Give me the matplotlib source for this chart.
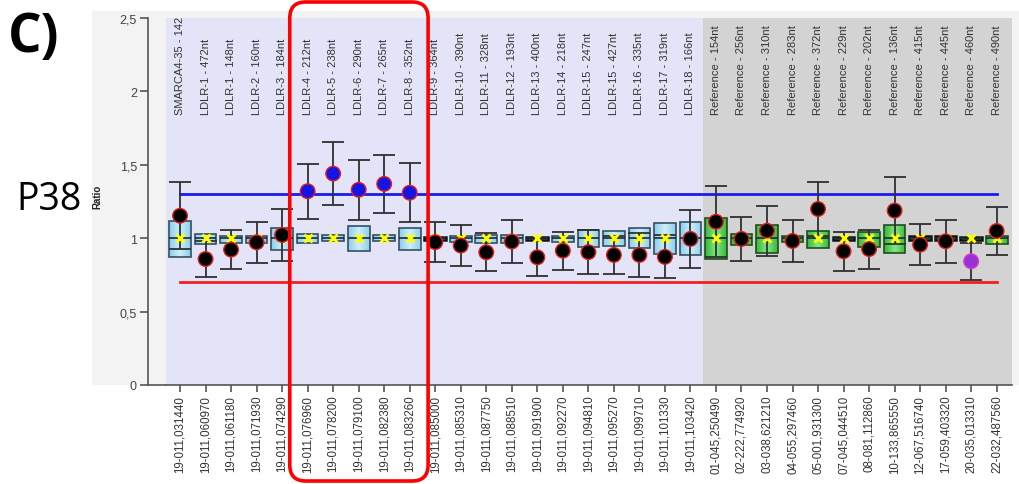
import numpy as np
import matplotlib
matplotlib.use("Agg")
import matplotlib.pyplot as plt
from matplotlib.patches import Rectangle, FancyBboxPatch
from matplotlib.colors import LinearSegmentedColormap

# ---- data -------------------------------------------------------------
probe_names = [
    "SMARCA4-35 - 142", "LDLR-1 - 472nt", "LDLR-1 - 148nt", "LDLR-2 - 160nt",
    "LDLR-3 - 184nt", "LDLR-4 - 212nt", "LDLR-5 - 238nt", "LDLR-6 - 290nt",
    "LDLR-7 - 265nt", "LDLR-8 - 352nt", "LDLR-9 - 364nt", "LDLR-10 - 390nt",
    "LDLR-11 - 328nt", "LDLR-12 - 193nt", "LDLR-13 - 400nt", "LDLR-14 - 218nt",
    "LDLR-15 - 247nt", "LDLR-15 - 427nt", "LDLR-16 - 335nt", "LDLR-17 - 319nt",
    "LDLR-18 - 166nt",
    "Reference - 154nt", "Reference - 256nt", "Reference - 310nt",
    "Reference - 283nt", "Reference - 372nt", "Reference - 229nt",
    "Reference - 202nt", "Reference - 136nt", "Reference - 415nt",
    "Reference - 445nt", "Reference - 460nt", "Reference - 490nt",
]
probe_locations = [
    "19-011,031440", "19-011,060970", "19-011,061180", "19-011,071930",
    "19-011,074290", "19-011,076960", "19-011,078200", "19-011,079100",
    "19-011,082380", "19-011,083260", "19-011,085000", "19-011,085310",
    "19-011,087750", "19-011,088510", "19-011,091900", "19-011,092270",
    "19-011,094810", "19-011,095270", "19-011,099710", "19-011,101330",
    "19-011,103420",
    "01-045,250490", "02-222,774920", "03-038,621210", "04-055,297460",
    "05-001,931300", "07-045,044510", "08-081,112860", "10-133,865550",
    "12-067,516740", "17-059,403320", "20-035,013310", "22-032,487560",
]
n_target_probes = 21  # the rest are reference probes

# reference-sample distribution per probe
ref_q1 = [0.875, 0.958, 0.967, 0.970, 0.922, 0.970, 0.980, 0.915, 0.980, 0.920,
          0.990, 0.975, 0.967, 0.970, 0.988, 0.975, 0.941, 0.948, 0.932, 0.895,
          0.886,
          0.858, 0.954, 0.897, 0.975, 0.933, 0.990, 0.942, 0.897, 0.987, 0.985,
          0.990, 0.963]
ref_q3 = [1.115, 1.026, 1.015, 1.015, 1.067, 1.030, 1.020, 1.080, 1.020, 1.070,
          1.010, 1.015, 1.024, 1.020, 1.008, 1.018, 1.057, 1.050, 1.068, 1.102,
          1.109,
          1.138, 1.027, 1.092, 1.016, 1.047, 1.006, 1.040, 1.092, 1.012, 1.012,
          1.005, 1.017]
ref_median = [1.0] * 33
ref_mean = [1.0] * 33

# test sample ratio and its 95% confidence half-width
sample_ratio = [1.153, 0.858, 0.922, 0.972, 1.022, 1.320, 1.440, 1.330, 1.370,
                1.310, 0.973, 0.950, 0.904, 0.977, 0.870, 0.915, 0.905, 0.886,
                0.886, 0.873, 0.995,
                1.112, 0.995, 1.051, 0.981, 1.199, 0.911, 0.926, 1.188, 0.956,
                0.979, 0.843, 1.049]
sample_ci = [0.227, 0.120, 0.134, 0.141, 0.176, 0.187, 0.217, 0.205, 0.200,
             0.200, 0.137, 0.137, 0.130, 0.145, 0.125, 0.130, 0.150, 0.131,
             0.149, 0.146, 0.197,
             0.241, 0.147, 0.171, 0.144, 0.182, 0.134, 0.133, 0.227, 0.141,
             0.148, 0.126, 0.163]
sample_call = ["normal"] * 5 + ["gain"] * 5 + ["normal"] * 21 + ["unreliable"] + ["normal"]

gain_threshold = 1.30
loss_threshold = 0.70
highlighted = (5, 9)  # LDLR-4 .. LDLR-8

# ---- figure -------------------------------------------------------------
W, H = 1020, 485
fig = plt.figure(figsize=(W / 100, H / 100), dpi=100)
fig.patch.set_facecolor("white")

FONT = "Liberation Sans"
plt.rcParams["font.family"] = [FONT, "DejaVu Sans"]

ax_left, ax_right, ax_top, ax_bottom = 166, 1012, 19, 386
ax = fig.add_axes([ax_left / W, (H - ax_bottom) / H,
                   (ax_right - ax_left) / W, (ax_bottom - ax_top) / H])
ax.set_facecolor("none")

# light panel behind the chart
fig.patches.append(Rectangle((92 / W, (H - ax_bottom) / H), (W - 92) / W,
                             (ax_bottom - 12) / H, transform=fig.transFigure,
                             facecolor="#f3f3f3", edgecolor="none", zorder=-5))

x = np.arange(len(probe_names))
xmin, xmax = -0.55, len(x) - 1 + 0.6

# zone shading: target probes vs reference probes
ax.axvspan(xmin, n_target_probes - 0.5, color="#e4e4f8", zorder=0, lw=0)
ax.axvspan(n_target_probes - 0.5, xmax, color="#d3d3d3", zorder=0, lw=0)

# threshold lines
ax.plot([x[0], x[-1]], [gain_threshold] * 2, color="#1a1aee", lw=2.0, zorder=1.5)
ax.plot([x[0], x[-1]], [loss_threshold] * 2, color="#f02020", lw=2.0, zorder=1.5)

# boxes of the reference distribution
stats = [dict(med=m, q1=a, q3=b, whislo=a, whishi=b, mean=mu, fliers=[])
         for m, a, b, mu in zip(ref_median, ref_q1, ref_q3, ref_mean)]
bp = ax.bxp(stats, positions=x, widths=0.85, patch_artist=True,
            showmeans=True, showcaps=False, shownotches=False,
            boxprops=dict(linewidth=1.2),
            medianprops=dict(color="#1b2a33", linewidth=1.2),
            whiskerprops=dict(linewidth=0),
            meanprops=dict(marker="x", markeredgecolor="#ffff00",
                           markersize=6, markeredgewidth=2.0),
            zorder=2)

blue_grad = LinearSegmentedColormap.from_list(
    "bluebox", ["#8ccdee", "#cdeefb", "#8ccdee"])
green_grad = LinearSegmentedColormap.from_list(
    "greenbox", ["#36b836", "#86e686", "#36b836"])
grad = np.linspace(0, 1, 64)[None, :]

for i, box in enumerate(bp["boxes"]):
    thin = (ref_q3[i] - ref_q1[i]) < 0.03
    is_target = i < n_target_probes
    box.set_facecolor("#a9dcf4" if is_target else "#52cf52")
    if thin:
        box.set_edgecolor("#111111")
        box.set_linewidth(1.8)
    else:
        box.set_edgecolor("#34505e" if is_target else "#1e4f1e")
    # shaded fill clipped to the box outline
    img = ax.imshow(grad, cmap=blue_grad if is_target else green_grad,
                    extent=(x[i] - 0.425, x[i] + 0.425, ref_q1[i], ref_q3[i]),
                    aspect="auto", interpolation="bilinear", zorder=2.1)
    img.set_clip_path(box)
    box.set_facecolor("none")
    box.set_zorder(2.2)
for m in bp["means"]:
    m.set_zorder(5)
for m in bp["medians"]:
    m.set_zorder(3.5)

# sample confidence intervals
ax.errorbar(x, sample_ratio, yerr=sample_ci, fmt="none", ecolor="#303030",
            elinewidth=1.3, capsize=7.8, capthick=1.3, zorder=3)

# sample ratio dots
dot_face = {"normal": "#000000", "gain": "#1414e6", "unreliable": "#9b30d8"}
dot_edge = {"normal": "#e02020", "gain": "#e02020", "unreliable": "#d040d0"}
ax.scatter(x, sample_ratio, s=110,
           c=[dot_face[c] for c in sample_call],
           edgecolors=[dot_edge[c] for c in sample_call],
           linewidths=1.0, zorder=6)

ax.set_xlim(xmin, xmax)
ax.set_ylim(0, 2.5)

# probe names inside the plot
for xi, name in zip(x, probe_names):
    ax.text(xi, 1.846, name, rotation=90, ha="center", va="bottom",
            fontsize=8, color="#333333", family=FONT, zorder=4)

# axes styling
for s in ("top", "right"):
    ax.spines[s].set_visible(False)
ax.spines["left"].set_position(("outward", 13))
ax.spines["left"].set_color("#555555")
ax.spines["left"].set_linewidth(1.2)
ax.spines["bottom"].set_color("#555555")
ax.spines["bottom"].set_linewidth(1.2)

yt = [0, 0.5, 1, 1.5, 2, 2.5]
ax.set_yticks(yt)
ax.set_yticklabels([f"{v:g}".replace(".", ",") for v in yt],
                   fontsize=9, color="#444444", family=FONT)
ax.tick_params(axis="y", length=6, width=1.2, color="#555555", pad=2)

ax.set_xticks(x)
ax.set_xticklabels(probe_locations, rotation=90, fontsize=8.3,
                   color="#333333", family=FONT)
ax.tick_params(axis="x", length=5, width=1.2, color="#555555", pad=2)

# ---- overlay in pixel units --------------------------------------------
ov = fig.add_axes([0, 0, 1, 1], zorder=10)
ov.set_xlim(0, W)
ov.set_ylim(0, H)
ov.axis("off")
ov.patch.set_alpha(0)

# bottom axis line reaching the y spine
ov.plot([147, ax_left], [H - ax_bottom] * 2, color="#555555", lw=1.2,
        solid_capstyle="butt")

ov.text(97, H - 197, "Ratio", rotation=90, ha="center", va="center",
        fontsize=7, fontweight="bold", color="#222222", family=FONT)
ov.text(8, H - 38, "C)", ha="left", va="center", fontsize=38,
        fontweight="bold", color="black", family="Open Sans")
ov.text(16, H - 200, "P38", ha="left", va="center", fontsize=27,
        color="black", family="Open Sans")

# rounded frame around the highlighted probes
px_per_unit = (ax_right - ax_left) / (xmax - xmin)
fx0 = ax_left + (highlighted[0] - 0.7 - xmin) * px_per_unit
fx1 = ax_left + (highlighted[1] + 0.72 - xmin) * px_per_unit
frame = FancyBboxPatch((fx0, 3), fx1 - fx0, H - 6,
                       boxstyle="round,pad=0,rounding_size=16",
                       facecolor="none", edgecolor="#ff0000", lw=2.6)
ov.add_patch(frame)

fig.savefig("out.png", dpi=100)
